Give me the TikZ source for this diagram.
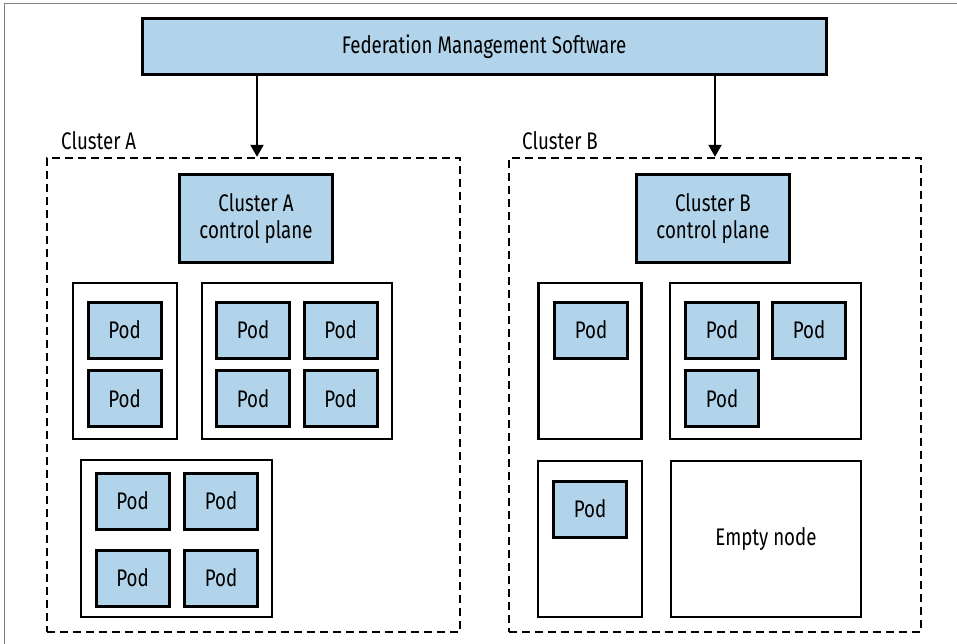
\documentclass[tikz,border=0pt]{standalone}
\usepackage{fontspec}
\setmainfont[FakeStretch=0.78]{Fira Sans}
\usepackage{tikz}
\usetikzlibrary{arrows.meta,positioning}
\definecolor{podblue}{RGB}{178,212,234}
\tikzset{
    blue box/.style={draw, fill=podblue, line width=3pt, align=center, inner sep=0pt},
    pod/.style={blue box, minimum width=73pt, minimum height=56pt},
    plane/.style={blue box, minimum width=153pt, minimum height=87pt, font=\fontsize{24}{27}\selectfont},
    host/.style={draw, line width=2.5pt, fill=white, inner sep=0pt},
    cluster/.style={draw, line width=2.4pt, dash pattern=on 8pt off 5pt, inner sep=0pt},
    edge/.style={draw, line width=2.2pt, -{Triangle[length=12pt, width=13pt]}}
}
\begin{document}
\begin{tikzpicture}[x=1pt, y=-1pt, font=\fontsize{24}{24}\selectfont]
    \useasboundingbox (0,0) rectangle (957,644);
    % outer frame
    \draw[gray, line width=1pt] (4,644) -- (4,4) -- (957,4);

    % clusters
    \node[cluster, minimum width=413pt, minimum height=474pt] (clA) at (253.5,395) {};
    \node[cluster, minimum width=412pt, minimum height=474pt] (clB) at (715,395) {};
    \node[anchor=base west, inner sep=0pt] (labA) at (61,150) {Cluster A};
    \node[anchor=base west, inner sep=0pt] (labB) at (522,150) {Cluster B};

    % management
    \node[blue box, minimum width=684pt, minimum height=56pt] (fed) at (484,47) {Federation Management Software};
    \node[plane] (cpA) at (256,218.5) {Cluster A\\control plane};
    \node[plane] (cpB) at (713,218.5) {Cluster B\\control plane};

    % hosts
    \node[host, minimum width=104pt, minimum height=156pt] (h1) at (125,361) {};
    \node[host, minimum width=190pt, minimum height=156pt] (h2) at (297,361) {};
    \node[host, minimum width=191pt, minimum height=157pt] (h3) at (176.5,538.5) {};
    \node[host, minimum width=103pt, minimum height=156pt] (h4) at (590,361) {};
    \node[host, minimum width=191pt, minimum height=156pt] (h5) at (765.5,361) {};
    \node[host, minimum width=104pt, minimum height=156pt] (h6) at (590,539) {};
    \node[host, minimum width=190pt, minimum height=156pt] (h7) at (766,539) {Empty node};

    % pods, cluster A
    \node[pod] (p11) at (124.5,330) {Pod};
    \node[pod] (p12) at (124.5,398.5) {Pod};
    \node[pod] (p21) at (253,330) {Pod};
    \node[pod] (p22) at (340.5,330) {Pod};
    \node[pod] (p23) at (253,398.5) {Pod};
    \node[pod] (p24) at (340.5,398.5) {Pod};
    \node[pod] (p31) at (132.5,501) {Pod};
    \node[pod] (p32) at (221,501) {Pod};
    \node[pod] (p33) at (132.5,578) {Pod};
    \node[pod] (p34) at (221,578) {Pod};

    % pods, cluster B
    \node[pod] (p41) at (591,330) {Pod};
    \node[pod] (p51) at (722,330) {Pod};
    \node[pod] (p52) at (809,330) {Pod};
    \node[pod] (p53) at (722,398.5) {Pod};
    \node[pod] (p61) at (590,509) {Pod};

    % edges
    \draw[edge] (fed.south -| clA.north) ++(3.5,0) coordinate (fa) -- (fa |- clA.north);
    \draw[edge] (fed.south -| clB.north) coordinate (fb) -- (clB.north);
\end{tikzpicture}
\end{document}
